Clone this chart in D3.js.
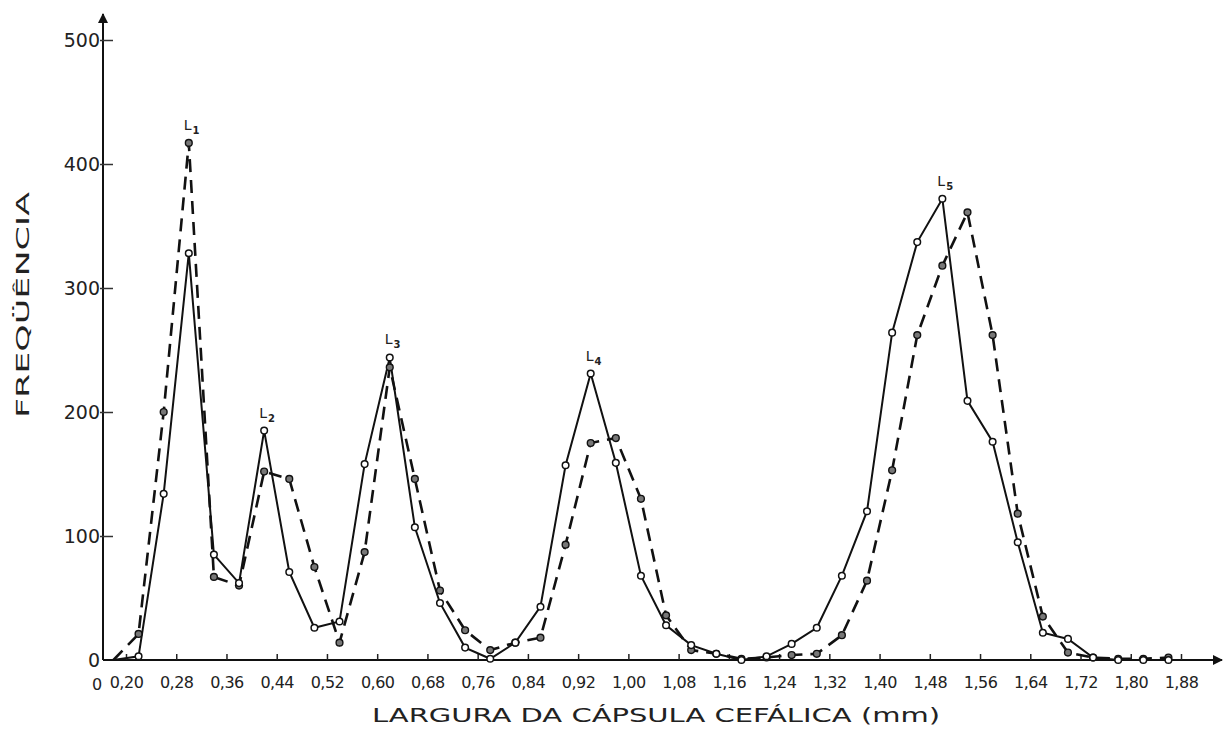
<!DOCTYPE html>
<html lang="pt">
	<head>
		<meta charset="utf-8">
		<title>Largura da cápsula cefálica</title>
		<script type="text/javascript" src="https://cdn.jsdelivr.net/npm/d3@7"></script>
		<style type="text/css">
			body { margin: 0; background: #fff; }
			text { font-family: "DejaVu Sans", "Liberation Sans", sans-serif; fill: #222; }
		</style>
	</head>
	<body>
		<script type="text/javascript">

		var w = 1224, h = 729;

		// largura da capsula (mm), centro de cada classe
		var larguras = [0.18, 0.22, 0.26, 0.30, 0.34, 0.38, 0.42, 0.46, 0.50, 0.54,
			0.58, 0.62, 0.66, 0.70, 0.74, 0.78, 0.82, 0.86, 0.90, 0.94,
			0.98, 1.02, 1.06, 1.10, 1.14, 1.18, 1.22, 1.26, 1.30, 1.34,
			1.38, 1.42, 1.46, 1.50, 1.54, 1.58, 1.62, 1.66, 1.70, 1.74,
			1.78, 1.82, 1.86];

		// linha cheia
		var serieCheia = [0, 3, 134, 328, 85, 62, 185, 71, 26, 31,
			158, 244, 107, 46, 10, 1, 14, 43, 157, 231,
			159, 68, 28, 12, 5, 0, 3, 13, 26, 68,
			120, 264, 337, 372, 209, 176, 95, 22, 17, 2,
			0, 0, 0];

		// linha tracejada
		var serieTracejada = [0, 21, 200, 417, 67, 60, 152, 146, 75, 14,
			87, 236, 146, 56, 24, 8, 14, 18, 93, 175,
			179, 130, 36, 8, 5, 1, 2, 4, 5, 20,
			64, 153, 262, 318, 361, 262, 118, 35, 6, 2,
			1, 1, 2];

		var xTicks = [0.20, 0.28, 0.36, 0.44, 0.52, 0.60, 0.68, 0.76, 0.84, 0.92,
			1.00, 1.08, 1.16, 1.24, 1.32, 1.40, 1.48, 1.56, 1.64, 1.72, 1.80, 1.88];
		var yTicks = [0, 100, 200, 300, 400, 500];

		// instares: rotulo e posicao do pico (indice em larguras)
		var instares = ["1", "2", "3", "4", "5"];
		var picos = [3, 6, 11, 19, 33];

		var x0 = 103, y0 = 660;
		var x = d3.scaleLinear().domain([0.20, 1.88]).range([126, 1181]);
		var y = d3.scaleLinear().domain([0, 500]).range([y0, 40]);

		var svg = d3.select("body")
			.append("svg")
			.attr("width", w)
			.attr("height", h);

		var defs = svg.append("defs");
		defs.append("marker")
			.attr("id", "seta")
			.attr("viewBox", "0 0 10 10")
			.attr("refX", 9).attr("refY", 5)
			.attr("markerWidth", 14).attr("markerHeight", 10)
			.attr("markerUnits", "userSpaceOnUse")
			.attr("orient", "auto")
			.append("path")
			.attr("d", "M0,0 L10,5 L0,10 z")
			.attr("fill", "#111");

		// eixos com seta
		svg.append("line")
			.attr("x1", x0).attr("y1", y0).attr("x2", 1222).attr("y2", y0)
			.attr("stroke", "#111").attr("stroke-width", 2)
			.attr("marker-end", "url(#seta)");
		svg.append("line")
			.attr("x1", x0).attr("y1", y0).attr("x2", x0).attr("y2", 14)
			.attr("stroke", "#111").attr("stroke-width", 2)
			.attr("marker-end", "url(#seta)");

		var xAxis = d3.axisBottom(x)
			.tickValues(xTicks)
			.tickSize(-6)
			.tickPadding(17)
			.tickFormat(function(d){ return d3.format(".2f")(d).replace(".", ","); });
		var gx = svg.append("g")
			.attr("transform", "translate(0," + y0 + ")")
			.call(xAxis);
		gx.select(".domain").remove();
		gx.selectAll(".tick line").attr("stroke", "#222").attr("stroke-width", 1.5);
		gx.selectAll(".tick text")
			.attr("font-size", "16px")
			.attr("font-family", "DejaVu Sans, sans-serif")
			.attr("letter-spacing", "-0.5px")
			.attr("fill", "#222");

		svg.append("text")
			.attr("x", x0 - 6).attr("y", y0 + 29.5)
			.attr("text-anchor", "middle")
			.attr("font-size", "16px")
			.text("0");

		var yAxis = d3.axisLeft(y)
			.tickValues(yTicks)
			.tickSize(0)
			.tickPadding(3)
			.tickFormat(function(d){ return d == 0 ? "0" : d; });
		var gy = svg.append("g")
			.attr("transform", "translate(" + x0 + ",0)")
			.call(yAxis);
		gy.select(".domain").remove();
		gy.selectAll(".tick text")
			.attr("font-size", "19px")
			.attr("font-family", "DejaVu Sans, sans-serif")
			.attr("fill", "#444");
		gy.selectAll(".tick")
			.filter(function(d){ return d > 0; })
			.append("line")
			.attr("x1", -3).attr("x2", 10)
			.attr("stroke", "#333").attr("stroke-width", 1.5);

		// titulos dos eixos
		svg.append("text")
			.attr("x", 372).attr("y", 722)
			.attr("textLength", 568)
			.attr("lengthAdjust", "spacingAndGlyphs")
			.attr("font-size", "20px")
			.text("LARGURA DA CÁPSULA CEFÁLICA (mm)");
		svg.append("text")
			.attr("transform", "translate(29,418) rotate(-90)")
			.attr("textLength", 226)
			.attr("lengthAdjust", "spacingAndGlyphs")
			.attr("font-size", "18px")
			.attr("fill", "#555")
			.text("FREQÜÊNCIA");

		var linha = d3.line()
			.x(function(d){ return x(d[0]); })
			.y(function(d){ return y(d[1]); });

		var dadosTracejada = larguras.map(function(d, i){ return [d, serieTracejada[i]]; });
		var dadosCheia = larguras.map(function(d, i){ return [d, serieCheia[i]]; });

		svg.append("path")
			.datum(dadosTracejada)
			.attr("d", linha)
			.attr("fill", "none")
			.attr("stroke", "#111")
			.attr("stroke-width", 2.6)
			.attr("stroke-dasharray", "13,8");
		svg.append("path")
			.datum(dadosCheia)
			.attr("d", linha)
			.attr("fill", "none")
			.attr("stroke", "#111")
			.attr("stroke-width", 2);

		svg.selectAll("circle.tracejada")
			.data(dadosTracejada.slice(1))
			.enter()
			.append("circle")
			.attr("class", "tracejada")
			.attr("cx", function(d){ return x(d[0]); })
			.attr("cy", function(d){ return y(d[1]); })
			.attr("r", 3.4)
			.attr("fill", "#777")
			.attr("stroke", "#111")
			.attr("stroke-width", 1.4);
		svg.selectAll("circle.cheia")
			.data(dadosCheia.slice(1))
			.enter()
			.append("circle")
			.attr("class", "cheia")
			.attr("cx", function(d){ return x(d[0]); })
			.attr("cy", function(d){ return y(d[1]); })
			.attr("r", 3.3)
			.attr("fill", "#fff")
			.attr("stroke", "#111")
			.attr("stroke-width", 1.5);

		// rotulos L1..L5 acima dos picos
		var rot = svg.selectAll("text.instar")
			.data(instares)
			.enter()
			.append("text")
			.attr("class", "instar")
			.attr("x", function(d, i){ return x(larguras[picos[i]]) - 5; })
			.attr("y", function(d, i){
				var v = Math.max(serieCheia[picos[i]], serieTracejada[picos[i]]);
				return y(v) - 13;
			})
			.attr("font-size", "14px")
			.attr("fill", "#111");
		rot.append("tspan").text("L");
		rot.append("tspan")
			.attr("font-size", "10px")
			.attr("font-weight", "bold")
			.attr("dx", 1)
			.attr("dy", 4)
			.text(function(d){ return d; });

		</script>
	</body>
</html>
